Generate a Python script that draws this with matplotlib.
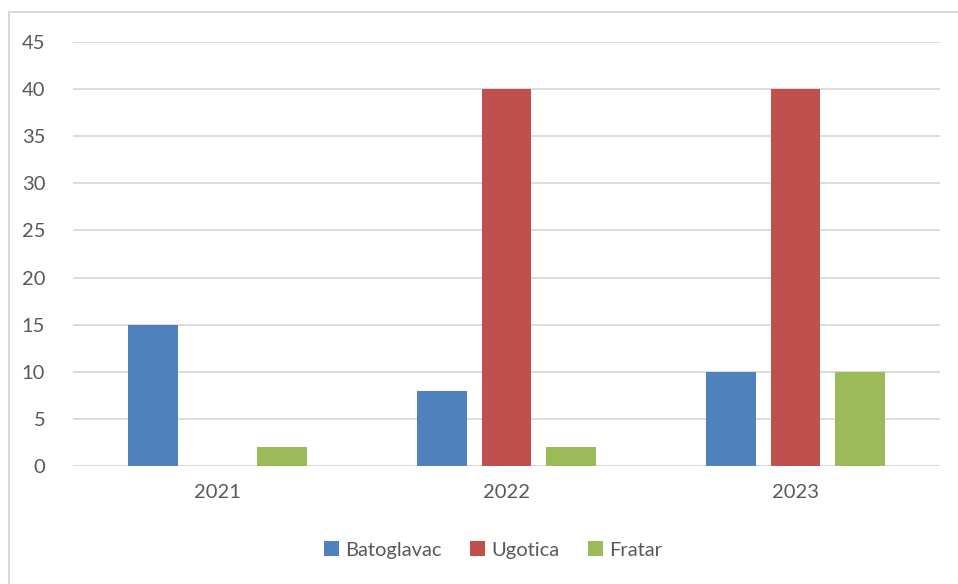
import matplotlib
matplotlib.use("Agg")
import matplotlib.pyplot as plt
from matplotlib.patches import Rectangle
import numpy as np

categories = ["2021", "2022", "2023"]
series_names = ["Batoglavac", "Ugotica", "Fratar"]
batoglavac = [15, 8, 10]
ugotica = [0, 40, 40]
fratar = [2, 2, 10]
yticks = [0, 5, 10, 15, 20, 25, 30, 35, 40, 45]

colors = ["#4F81BD", "#C0504D", "#9BBB59"]
plt.rcParams['font.family'] = ['Lato', 'DejaVu Sans']

W, H = 958, 584
fig = plt.figure(figsize=(W / 100, H / 100), dpi=100)
fig.patches.append(Rectangle((9 / W, -0.1), 1.2, 1.1 - 12 / H, transform=fig.transFigure,
                             fill=False, edgecolor="#D9D9D9", linewidth=1.5))

ax = fig.add_axes([73 / W, 1 - 466 / H, (940 - 73) / W, (466 - 42) / H])
x = np.arange(len(categories))
width = 0.173
pitch = 0.222
for i, (name, vals) in enumerate(zip(series_names, [batoglavac, ugotica, fratar])):
    ax.bar(x + (i - 1) * pitch, vals, width, color=colors[i], label=name, zorder=3)

ax.set_xlim(-0.5, len(categories) - 0.5)
ax.set_ylim(0, 45)
ax.set_yticks(yticks)
ax.set_xticks(x)
ax.set_xticklabels(categories)
ax.grid(axis='y', color="#D9D9D9", linewidth=1.3, zorder=0)
for s in ax.spines.values():
    s.set_visible(False)
ax.tick_params(axis='both', length=0, labelsize=14.5, colors="#595959")
ax.tick_params(axis='y', pad=20)
ax.tick_params(axis='x', pad=13)

leg = fig.legend(loc='center', bbox_to_anchor=(493 / W, 1 - 550 / H), ncol=3, frameon=False,
                 fontsize=14.5, handlelength=0.75, handleheight=0.75, handletextpad=0.3,
                 columnspacing=1.4)
for t in leg.get_texts():
    t.set_color("#595959")

fig.savefig("out.png", dpi=100)
